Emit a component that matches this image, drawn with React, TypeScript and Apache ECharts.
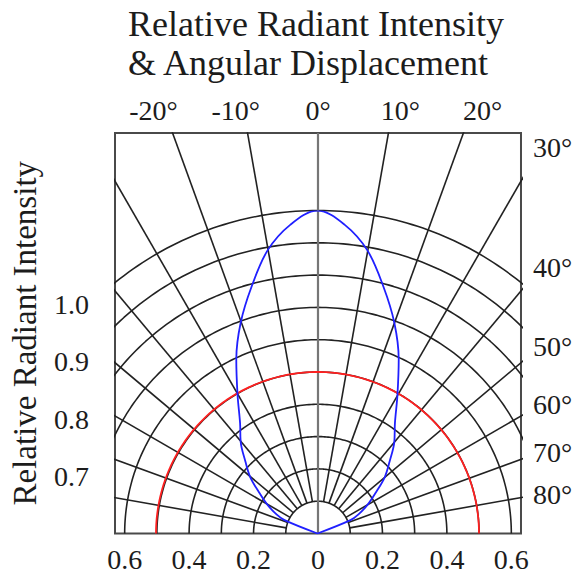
import React, { useEffect, useRef } from "react";
import * as echarts from "echarts";

// ---- texts ----
const TITLE = "Relative Radiant Intensity\n& Angular Displacement";
const Y_NAME = "Relative Radiant Intensity";

// ---- polar grid (relative intensity rings, angle spokes) ----
const ARC_RADII = [0.1, 0.2, 0.3, 0.4, 0.5, 0.6, 0.7, 0.8, 0.9, 1.0];
const SPOKE_ANGLES = [-80, -70, -60, -50, -40, -30, -20, -10, 10, 20, 30, 40, 50, 60, 70, 80];
const SPOKE_START = 0.1;
const HALF_LEVEL = 0.5;

// ---- tick labels ----
const X_TICKS = [-0.6, -0.4, -0.2, 0, 0.2, 0.4, 0.6];
const TOP_TICKS = [-20, -10, 0, 10, 20];
const SIDE_TICKS = [30, 40, 50, 60, 70, 80];
const Y_TICKS = [0.7, 0.8, 0.9, 1.0];

// ---- radiation pattern (angle in degrees, relative intensity) ----
const BEAM_ANGLES = [-68, -68, -65, -60, -55, -50, -45, -40, -35, -30, -25, -20, -15, -10, -5, 0,
  5, 10, 15, 20, 25, 30, 35, 40, 45, 50, 55, 60, 65, 68, 68];
const BEAM_INTENSITY = [0, 0.11, 0.14, 0.18, 0.22, 0.272, 0.316, 0.37, 0.418, 0.495, 0.595, 0.695, 0.79, 0.89, 0.96, 1.0,
  0.96, 0.89, 0.79, 0.695, 0.595, 0.495, 0.418, 0.37, 0.316, 0.272, 0.22, 0.18, 0.14, 0.11, 0];

// ---- layout ----
const W = 578;
const H = 578;
const CENTER_X = 317.5;
const CENTER_Y = 533.5;
const UNIT = 323; // px per 1.0 intensity
const X_HALF = 0.63;
const Y_TOP = 1.24;
const TOP_DEG_HALF = 24.67;
const SIDE_REACH = 0.69;
const FONT = "'Liberation Serif', 'Times New Roman', Times, serif";
const INK = "#1c1c1c";
const GRID_INK = "#222222";

const DEG = Math.PI / 180;
const toXY = (r: number, a: number) => [r * Math.sin(a * DEG), r * Math.cos(a * DEG)];

export default function App() {
  const ref = useRef<HTMLDivElement>(null);

  useEffect(() => {
    const chart = echarts.init(ref.current!, null, { renderer: "svg", width: W, height: H });

    const sweep: number[] = [];
    for (let a = -90; a <= 90; a += 1) sweep.push(a);

    const gridSeries: any[] = [];
    ARC_RADII.forEach((r) => {
      gridSeries.push({
        type: "line",
        silent: true,
        symbol: "none",
        clip: true,
        data: sweep.map((a) => toXY(r, a)),
        lineStyle: { color: GRID_INK, width: 1.6 },
        z: 2,
      });
    });
    SPOKE_ANGLES.forEach((a) => {
      gridSeries.push({
        type: "line",
        silent: true,
        symbol: "none",
        clip: true,
        data: [toXY(SPOKE_START, a), toXY(2.0, a)],
        lineStyle: { color: GRID_INK, width: 1.6 },
        z: 2,
      });
    });
    gridSeries.push({
      type: "line",
      silent: true,
      symbol: "none",
      clip: true,
      data: [[0, 0], [0, Y_TOP]],
      lineStyle: { color: "#767676", width: 2.2 },
      z: 2,
    });

    const labelStyle = { fontFamily: FONT, fontSize: 28, color: INK };

    const option: any = {
      animation: false,
      backgroundColor: "#ffffff",
      title: {
        text: TITLE,
        left: 123,
        top: -1,
        textStyle: { fontFamily: FONT, fontSize: 36, fontWeight: "normal", lineHeight: 39, color: INK },
      },
      grid: {
        left: CENTER_X - X_HALF * UNIT,
        top: CENTER_Y - Y_TOP * UNIT,
        width: 2 * X_HALF * UNIT,
        height: Y_TOP * UNIT,
        show: true,
        borderColor: "#4a4a4a",
        borderWidth: 2,
        backgroundColor: "transparent",
      },
      polar: { center: [CENTER_X, CENTER_Y], radius: UNIT },
      radiusAxis: { type: "value", min: 0, max: 1, show: false },
      angleAxis: { type: "value", min: -180, max: 180, startAngle: 270, clockwise: true, show: false },
      xAxis: [
        {
          type: "value",
          min: -X_HALF,
          max: X_HALF,
          position: "bottom",
          axisLine: { show: false },
          axisTick: { show: false },
          splitLine: { show: false },
          axisLabel: {
            ...labelStyle,
            margin: 12,
            customValues: X_TICKS,
            formatter: (v: number) => (Math.abs(v) < 1e-9 ? "0" : Math.abs(v).toFixed(1)),
          },
        },
        {
          type: "value",
          min: -TOP_DEG_HALF,
          max: TOP_DEG_HALF,
          position: "top",
          axisLine: { show: false },
          axisTick: { show: false },
          splitLine: { show: false },
          axisLabel: {
            ...labelStyle,
            margin: 8,
            customValues: TOP_TICKS,
            formatter: (v: number) => `${Math.round(v)}°`,
          },
        },
      ],
      yAxis: [
        { type: "value", min: 0, max: Y_TOP, show: false },
        {
          type: "value",
          min: 0.6,
          max: 1.3,
          position: "left",
          name: Y_NAME,
          nameLocation: "middle",
          nameRotate: 90,
          nameGap: 74,
          nameTextStyle: { fontFamily: FONT, fontSize: 33, color: INK },
          axisLine: { show: false },
          axisTick: { show: false },
          splitLine: { show: false },
          axisLabel: {
            ...labelStyle,
            margin: 26,
            customValues: Y_TICKS,
            formatter: (v: number) => v.toFixed(1),
          },
        },
        {
          type: "value",
          min: 0,
          max: Y_TOP,
          position: "right",
          axisLine: { show: false },
          axisTick: { show: false },
          splitLine: { show: false },
          axisLabel: {
            ...labelStyle,
            margin: 12,
            customValues: SIDE_TICKS.map((a) => SIDE_REACH / Math.tan(a * DEG)),
            formatter: (v: number) => `${Math.round(Math.atan(SIDE_REACH / v) / DEG)}°`,
          },
        },
      ],
      series: [
        ...gridSeries,
        {
          type: "line",
          coordinateSystem: "polar",
          polarIndex: 0,
          silent: true,
          symbol: "none",
          clip: false,
          data: sweep.map((a) => [HALF_LEVEL, a]),
          lineStyle: { color: "#ff2020", width: 1.8 },
          z: 3,
        },
        {
          type: "line",
          coordinateSystem: "polar",
          polarIndex: 0,
          silent: true,
          symbol: "none",
          clip: false,
          smooth: 0.35,
          data: BEAM_ANGLES.map((a, i) => [BEAM_INTENSITY[i], a]),
          lineStyle: { color: "#2020ff", width: 1.8 },
          z: 4,
        },
      ],
    };

    chart.setOption(option);
    return () => chart.dispose();
  }, []);

  return (
    <div
      ref={ref}
      style={{ position: "fixed", left: 0, top: 0, width: W, height: H, background: "#fff" }}
    />
  );
}
